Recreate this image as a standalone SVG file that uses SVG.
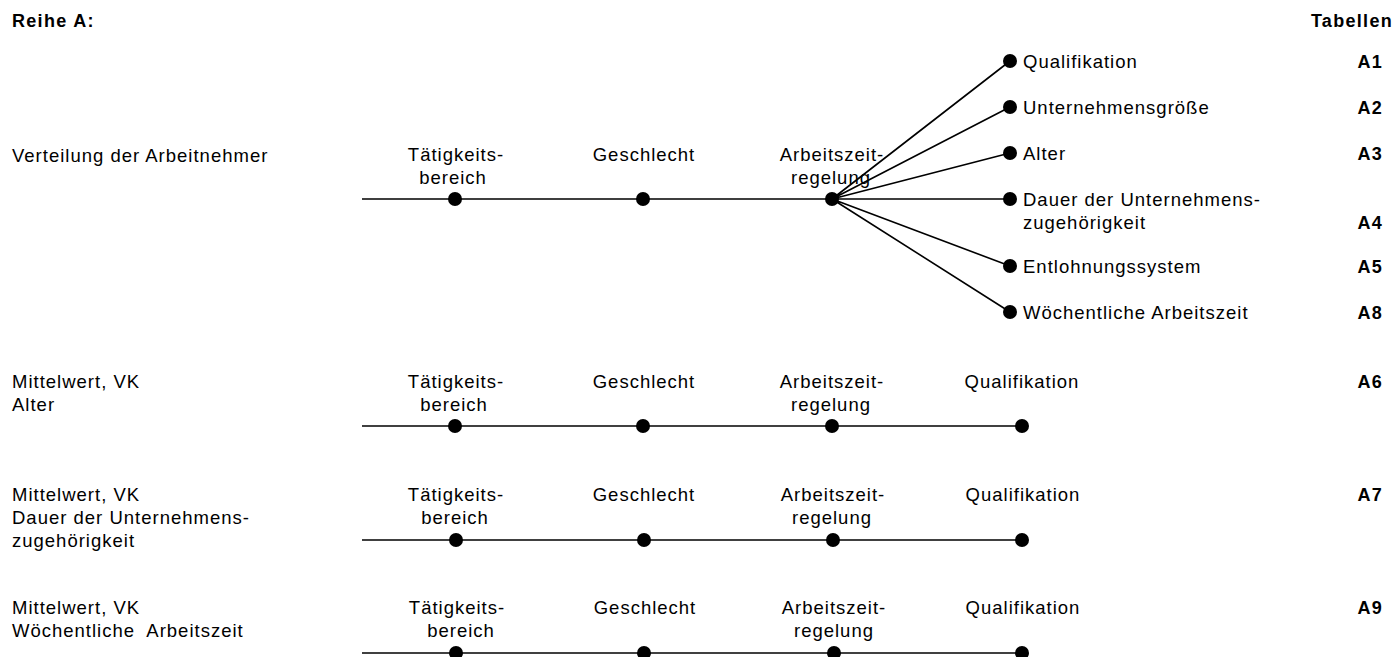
<svg xmlns="http://www.w3.org/2000/svg" width="1396" height="657" viewBox="0 0 1396 657">
<style>
text{font-family:"Liberation Sans",Arial,sans-serif;font-size:18.5px;letter-spacing:1px;fill:#000}
.b{font-weight:bold;font-size:18px;letter-spacing:1.3px}
.m{text-anchor:middle}
.e{text-anchor:end}
.ln{stroke:#000;stroke-width:1.6;fill:none}
circle{fill:#000}
</style>
<rect width="1396" height="657" fill="#fff"/>
<g id="header">
<text class="b" x="12" y="27">Reihe A:</text>
<text class="b e" x="1393" y="27">Tabellen</text>
</g>
<g id="connectors">
<path class="ln" d="M362 199H1010M832 199L1010 61M832 199L1010 107M832 199L1010 153M832 199L1010 266M832 199L1010 312"/>
<path class="ln" d="M362 426H1022"/>
<path class="ln" d="M362 540H1022"/>
<path class="ln" d="M362 653H1022"/>
</g>
<g id="row1">
<text x="12" y="162">Verteilung der Arbeitnehmer</text>
<g id="r1-taetigkeit"><text class="m" x="456" y="161">Tätigkeits-</text><text class="m" x="453" y="184">bereich</text><circle cx="455" cy="199" r="7"/></g>
<g id="r1-geschlecht"><text class="m" x="644" y="161">Geschlecht</text><circle cx="643" cy="199" r="7"/></g>
<g id="r1-arbeitszeit"><text class="m" x="832" y="161">Arbeitszeit-</text><text class="m" x="831" y="184">regelung</text><circle cx="832" cy="199" r="7"/></g>
<g id="r1-qualifikation"><circle cx="1010" cy="61" r="7"/><text x="1023" y="68">Qualifikation</text><text class="b e" x="1383" y="68">A1</text></g>
<g id="r1-groesse"><circle cx="1010" cy="107" r="7"/><text x="1023" y="114">Unternehmensgröße</text><text class="b e" x="1383" y="114">A2</text></g>
<g id="r1-alter"><circle cx="1010" cy="153" r="7"/><text x="1023" y="160">Alter</text><text class="b e" x="1383" y="160">A3</text></g>
<g id="r1-dauer"><circle cx="1010" cy="199" r="7"/><text x="1023" y="206">Dauer der Unternehmens-</text><text x="1023" y="229">zugehörigkeit</text><text class="b e" x="1383" y="229">A4</text></g>
<g id="r1-entlohnung"><circle cx="1010" cy="266" r="7"/><text x="1023" y="273">Entlohnungssystem</text><text class="b e" x="1383" y="273">A5</text></g>
<g id="r1-woche"><circle cx="1010" cy="312" r="7"/><text x="1023" y="319">Wöchentliche Arbeitszeit</text><text class="b e" x="1383" y="319">A8</text></g>
</g>
<g id="row2">
<text x="12" y="388">Mittelwert, VK</text><text x="12" y="411">Alter</text>
<g id="r2-taetigkeit"><text class="m" x="456" y="388">Tätigkeits-</text><text class="m" x="454" y="411">bereich</text><circle cx="455" cy="426" r="7"/></g>
<g id="r2-geschlecht"><text class="m" x="644" y="388">Geschlecht</text><circle cx="643" cy="426" r="7"/></g>
<g id="r2-arbeitszeit"><text class="m" x="832" y="388">Arbeitszeit-</text><text class="m" x="831" y="411">regelung</text><circle cx="832" cy="426" r="7"/></g>
<g id="r2-qualifikation"><text class="m" x="1022" y="388">Qualifikation</text><circle cx="1022" cy="426" r="7"/></g>
<text class="b e" x="1383" y="388">A6</text>
</g>
<g id="row3">
<text x="12" y="501">Mittelwert, VK</text><text x="12" y="524">Dauer der Unternehmens-</text><text x="12" y="547">zugehörigkeit</text>
<g id="r3-taetigkeit"><text class="m" x="456" y="501">Tätigkeits-</text><text class="m" x="455" y="524">bereich</text><circle cx="456" cy="540" r="7"/></g>
<g id="r3-geschlecht"><text class="m" x="644" y="501">Geschlecht</text><circle cx="644" cy="540" r="7"/></g>
<g id="r3-arbeitszeit"><text class="m" x="833" y="501">Arbeitszeit-</text><text class="m" x="832" y="524">regelung</text><circle cx="833" cy="540" r="7"/></g>
<g id="r3-qualifikation"><text class="m" x="1023" y="501">Qualifikation</text><circle cx="1022" cy="540" r="7"/></g>
<text class="b e" x="1383" y="501">A7</text>
</g>
<g id="row4">
<text x="12" y="614">Mittelwert, VK</text><text x="12" y="637" xml:space="preserve">Wöchentliche  Arbeitszeit</text>
<g id="r4-taetigkeit"><text class="m" x="457" y="614">Tätigkeits-</text><text class="m" x="461" y="637">bereich</text><circle cx="456" cy="653" r="7"/></g>
<g id="r4-geschlecht"><text class="m" x="645" y="614">Geschlecht</text><circle cx="644" cy="653" r="7"/></g>
<g id="r4-arbeitszeit"><text class="m" x="834" y="614">Arbeitszeit-</text><text class="m" x="834" y="637">regelung</text><circle cx="834" cy="653" r="7"/></g>
<g id="r4-qualifikation"><text class="m" x="1023" y="614">Qualifikation</text><circle cx="1022" cy="653" r="7"/></g>
<text class="b e" x="1383" y="614">A9</text>
</g>
</svg>
